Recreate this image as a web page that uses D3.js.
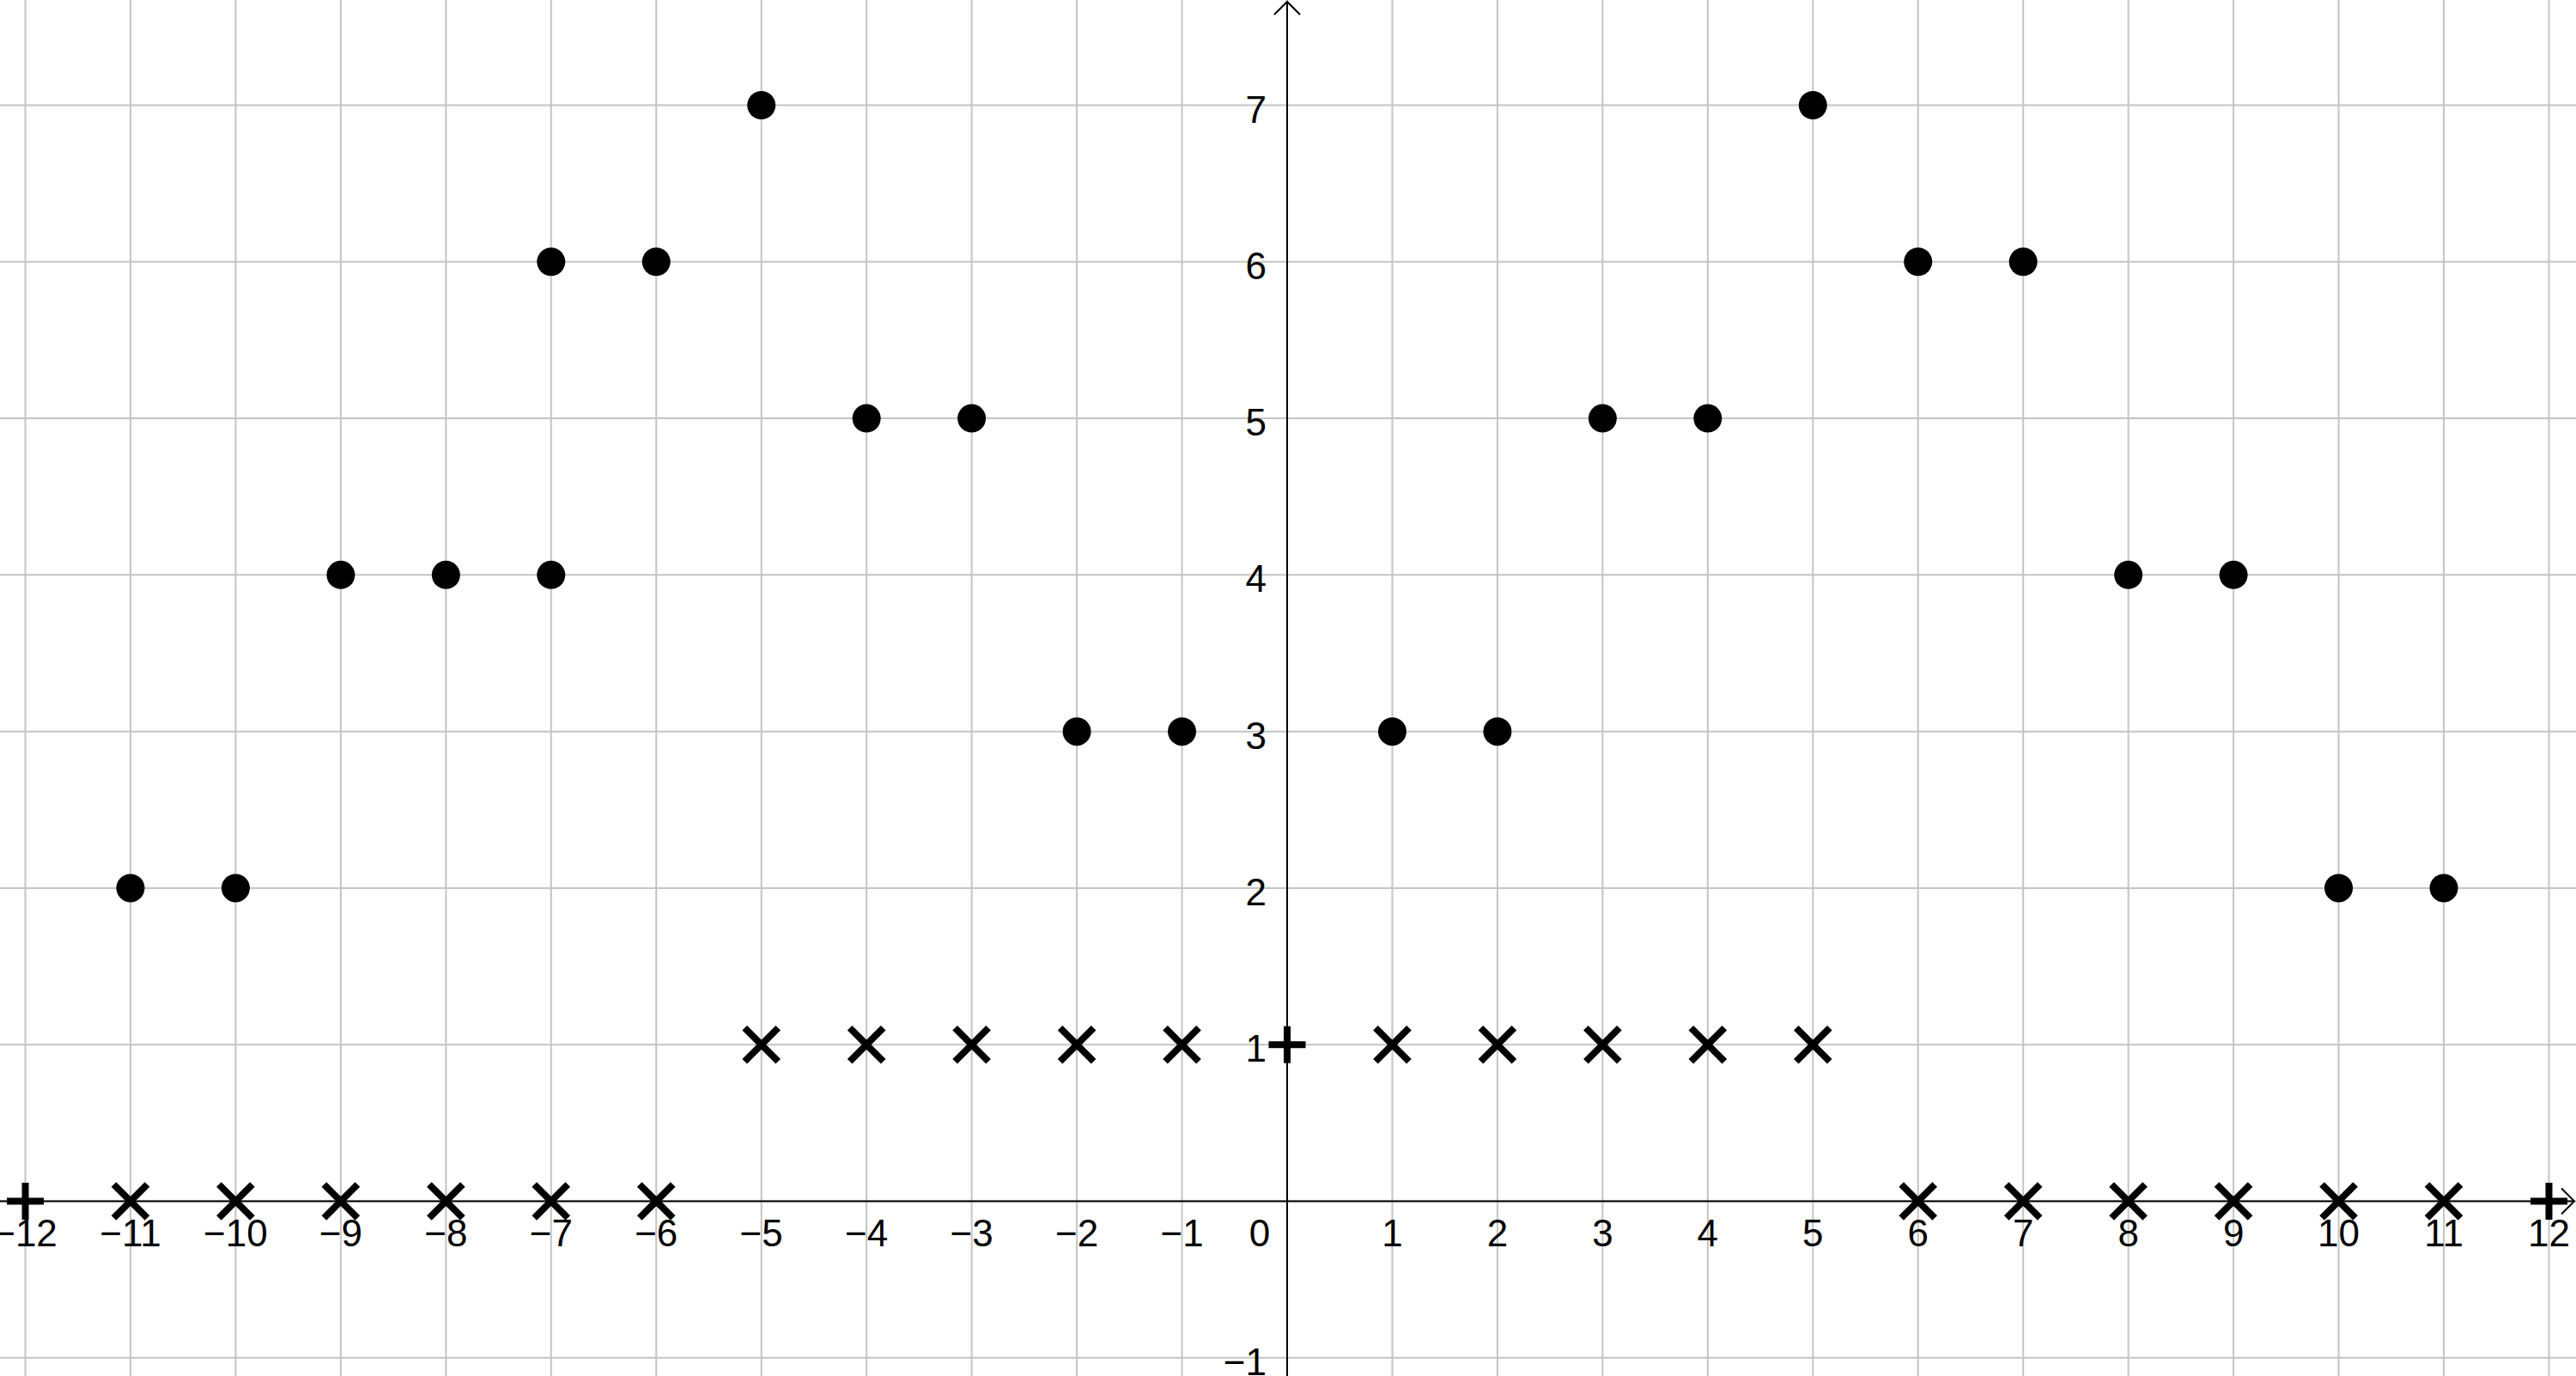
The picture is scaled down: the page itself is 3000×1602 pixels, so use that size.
<!DOCTYPE html>
<html>
<head>
<meta charset="utf-8">
<script src="https://cdn.jsdelivr.net/npm/d3@7"></script>
<style>
  html, body { margin: 0; padding: 0; background: #fff; }
  svg { display: block; }
</style>
</head>
<body>
<script>
/* data */
var dotX = [-11, -10, -9, -8, -7, -7, -6, -5, -4, -3, -2, -1, 1, 2, 3, 4, 5, 6, 7, 8, 9, 10, 11];
var dotY = [2, 2, 4, 4, 4, 6, 6, 7, 5, 5, 3, 3, 3, 3, 5, 5, 7, 6, 6, 4, 4, 2, 2];

var crossX = [-11, -10, -9, -8, -7, -6, -5, -4, -3, -2, -1, 1, 2, 3, 4, 5, 6, 7, 8, 9, 10, 11];
var crossY = [0, 0, 0, 0, 0, 0, 1, 1, 1, 1, 1, 1, 1, 1, 1, 1, 0, 0, 0, 0, 0, 0];

var plusX = [-12, 0, 12];
var plusY = [0, 1, 0];

var xTicks = [-12, -11, -10, -9, -8, -7, -6, -5, -4, -3, -2, -1, 1, 2, 3, 4, 5, 6, 7, 8, 9, 10, 11, 12];
var yTicks = [-1, 1, 2, 3, 4, 5, 6, 7];

/* workspace */
var W = 3000, H = 1602;
var font = "'Liberation Sans', Arial, sans-serif";

var x = d3.scaleLinear().domain([-12, 12]).range([29.5, 2968.5]);
var y = d3.scaleLinear().domain([0, 7]).range([1398.5, 122.5]);

var svg = d3.select("body").append("svg")
  .attr("width", W).attr("height", H);

svg.append("rect").attr("width", W).attr("height", H).attr("fill", "#fff");

/* grid */
var gridX = d3.range(-13, 14), gridY = d3.range(-2, 9);
svg.append("g").selectAll("line").data(gridX).join("line")
  .attr("x1", d => x(d)).attr("x2", d => x(d))
  .attr("y1", 0).attr("y2", H)
  .attr("stroke", "#c4c4c4").attr("stroke-width", 2);
svg.append("g").selectAll("line").data(gridY).join("line")
  .attr("x1", 0).attr("x2", W)
  .attr("y1", d => y(d)).attr("y2", d => y(d))
  .attr("stroke", "#c4c4c4").attr("stroke-width", 2);

/* axes */
var axes = svg.append("g").attr("stroke", "#000").attr("stroke-width", 2).attr("fill", "none");
axes.append("line").attr("x1", 0).attr("x2", W - 2).attr("y1", y(0)).attr("y2", y(0));
axes.append("line").attr("x1", x(0)).attr("x2", x(0)).attr("y1", 2).attr("y2", H);
axes.append("path")
  .attr("d", "M" + (W - 17) + "," + (y(0) - 15) + "L" + (W - 2) + "," + y(0) + "L" + (W - 17) + "," + (y(0) + 15));
axes.append("path")
  .attr("d", "M" + (x(0) - 15) + ",17L" + x(0) + ",2L" + (x(0) + 15) + ",17");

/* tick labels */
var fmt = d3.format("d");
svg.append("g").attr("font-family", font).attr("font-size", 44).attr("fill", "#000")
  .attr("text-anchor", "middle")
  .selectAll("text").data(xTicks).join("text")
  .attr("x", d => x(d)).attr("y", y(0) + 52)
  .text(d => fmt(d));

svg.append("g").attr("font-family", font).attr("font-size", 44).attr("fill", "#000")
  .attr("text-anchor", "end")
  .selectAll("text").data(yTicks).join("text")
  .attr("x", x(0) - 24).attr("y", d => y(d) + 20)
  .text(d => fmt(d));

svg.append("text").attr("font-family", font).attr("font-size", 44)
  .attr("text-anchor", "middle")
  .attr("x", x(0) - 32).attr("y", y(0) + 52).text("0");

/* points */
svg.append("g").selectAll("circle").data(dotX).join("circle")
  .attr("cx", d => x(d)).attr("cy", (d, i) => y(dotY[i]))
  .attr("r", 16.5).attr("fill", "#000");

var c = 19.5;
svg.append("g").attr("stroke", "#000").attr("stroke-width", 8)
  .selectAll("path").data(crossX).join("path")
  .attr("d", (d, i) => {
    var cx = x(d), cy = y(crossY[i]);
    return "M" + (cx - c) + "," + (cy - c) + "L" + (cx + c) + "," + (cy + c) +
      "M" + (cx - c) + "," + (cy + c) + "L" + (cx + c) + "," + (cy - c);
  });

var p = 21.5;
svg.append("g").attr("stroke", "#000").attr("stroke-width", 8)
  .selectAll("path").data(plusX).join("path")
  .attr("d", (d, i) => {
    var cx = x(d), cy = y(plusY[i]);
    return "M" + (cx - p) + "," + cy + "L" + (cx + p) + "," + cy +
      "M" + cx + "," + (cy - p) + "L" + cx + "," + (cy + p);
  });
</script>
</body>
</html>
